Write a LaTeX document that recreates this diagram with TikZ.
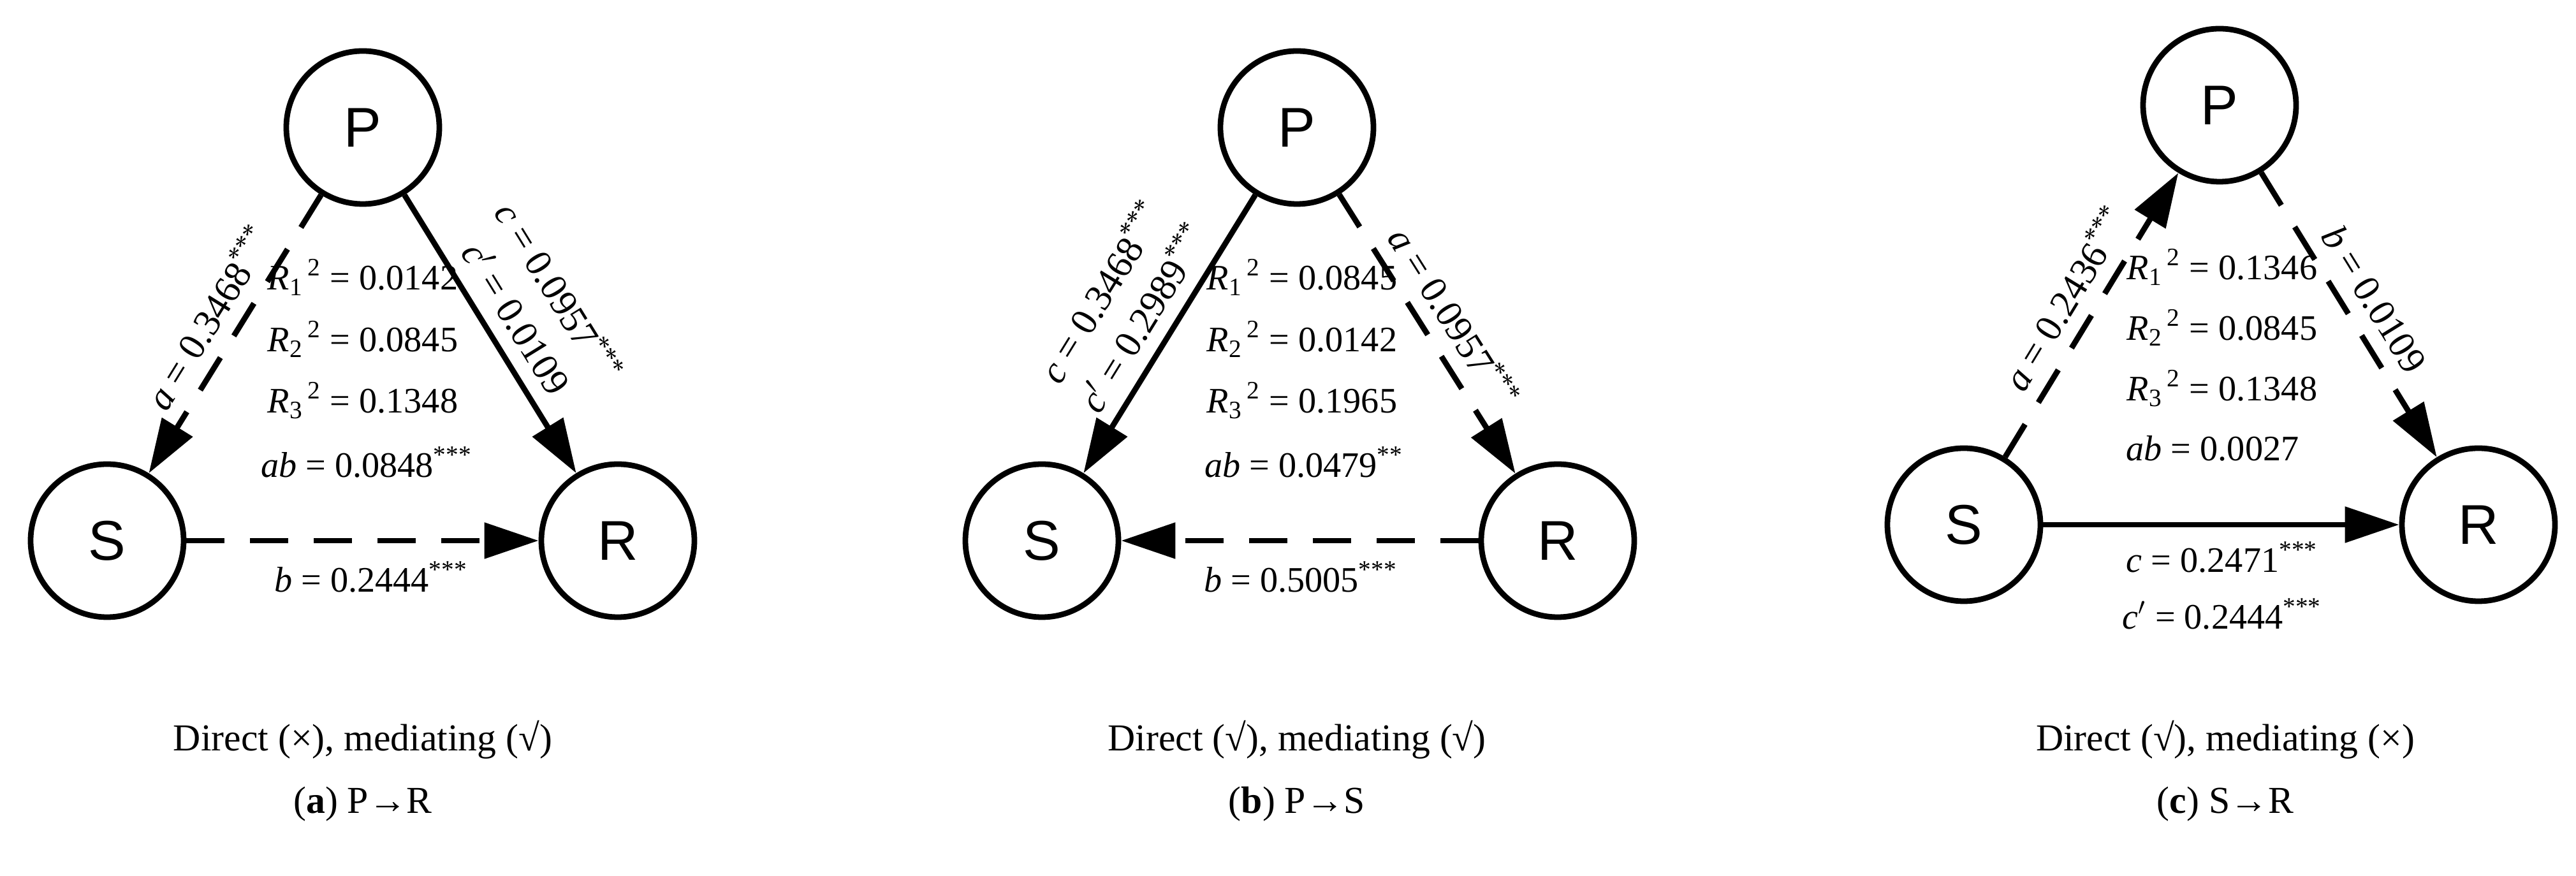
\documentclass[tikz,border=0pt]{standalone}
\usepackage{fontspec}
\setmainfont{Liberation Serif}
\newfontfamily\nodefont{Liberation Sans}
\usetikzlibrary{arrows.meta}
\begin{document}
\begin{tikzpicture}[
  v/.style={circle,draw,line width=2.5pt,minimum size=2.4cm,inner sep=0pt,font=\nodefont\fontsize{25}{30}\selectfont},
  e/.style={line width=2.5pt,-{Triangle[length=0.85cm,width=0.55cm]},shorten >=0pt},
  d/.style={e,dash pattern=on 0.6cm off 0.4cm},
  lab/.style={font=\fontsize{17}{22}\selectfont,align=center,inner sep=6pt},
  st/.style={font=\fontsize{16}{18}\selectfont,anchor=center},
  captxt/.style={font=\fontsize{17}{20}\selectfont}
]
\useasboundingbox (0,0) rectangle (40.4,13.74);
\newcommand{\Rsq}[2]{\textit{R}\textsubscript{#1}\textsuperscript{\,2} = #2}
\newcommand{\sig}{\textsuperscript{***}}
% panel a
\node[v] (Pa) at (5.69,11.74) {P};
\node[v] (Sa) at (1.68,5.26) {S};
\node[v] (Ra) at (9.69,5.26) {R};
\draw[d] (Pa) -- node[lab,sloped,above] {\textit{a} = 0.3468\sig} (Sa);
\draw[e] (Pa) -- node[lab,sloped,above] {\textit{c} = 0.0957\sig\\\textit{c}$'$ = 0.0109} (Ra);
\draw[d] (Sa) -- (Ra);
\node[st] (ba) at (5.82,4.69) {\textit{b} = 0.2444\sig};
\node[st] (r1a) at (5.69,9.39) {\Rsq{1}{0.0142}};
\node[st] (r2a) at (5.69,8.42) {\Rsq{2}{0.0845}};
\node[st] (r3a) at (5.69,7.46) {\Rsq{3}{0.1348}};
\node[st] (aba) at (5.75,6.49) {\textit{ab} = 0.0848\sig};
\node[captxt] (ca1) at (5.69,2.14) {Direct (×), mediating (√)};
\node[captxt] (ca2) at (5.69,1.13) {(\textbf{a}) P→R};
% panel b
\node[v] (Pb) at (20.34,11.74) {P};
\node[v] (Sb) at (16.34,5.26) {S};
\node[v] (Rb) at (24.43,5.26) {R};
\draw[e] (Pb) -- node[lab,sloped,above] {\textit{c} = 0.3468\sig\\\textit{c}$'$ = 0.2989\sig} (Sb);
\draw[d] (Pb) -- node[lab,sloped,above] {\textit{a} = 0.0957\sig} (Rb);
\draw[d] (Rb) -- (Sb);
\node[st] (bb) at (20.4,4.69) {\textit{b} = 0.5005\sig};
\node[st] (r1b) at (20.42,9.39) {\Rsq{1}{0.0845}};
\node[st] (r2b) at (20.42,8.42) {\Rsq{2}{0.0142}};
\node[st] (r3b) at (20.42,7.46) {\Rsq{3}{0.1965}};
\node[st] (abb) at (20.45,6.49) {\textit{ab} = 0.0479\textsuperscript{**}};
\node[captxt] (cb1) at (20.34,2.14) {Direct (√), mediating (√)};
\node[captxt] (cb2) at (20.34,1.13) {(\textbf{b}) P→S};
% panel c
\node[v] (Pc) at (34.81,12.09) {P};
\node[v] (Sc) at (30.8,5.51) {S};
\node[v] (Rc) at (38.87,5.51) {R};
\draw[d] (Sc) -- node[lab,sloped,above] {\textit{a} = 0.2436\sig} (Pc);
\draw[d] (Pc) -- node[lab,sloped,above] {\textit{b} = 0.0109} (Rc);
\draw[e] (Sc) -- (Rc);
\node[st] (cc) at (34.85,5.0) {\textit{c} = 0.2471\sig};
\node[st] (ccp) at (34.85,4.11) {\textit{c}$'$ = 0.2444\sig};
\node[st] (r1c) at (34.85,9.55) {\Rsq{1}{0.1346}};
\node[st] (r2c) at (34.85,8.6) {\Rsq{2}{0.0845}};
\node[st] (r3c) at (34.85,7.65) {\Rsq{3}{0.1348}};
\node[st] (abc) at (34.7,6.71) {\textit{ab} = 0.0027};
\node[captxt] (cc1) at (34.9,2.14) {Direct (√), mediating (×)};
\node[captxt] (cc2) at (34.9,1.13) {(\textbf{c}) S→R};
\end{tikzpicture}
\end{document}
